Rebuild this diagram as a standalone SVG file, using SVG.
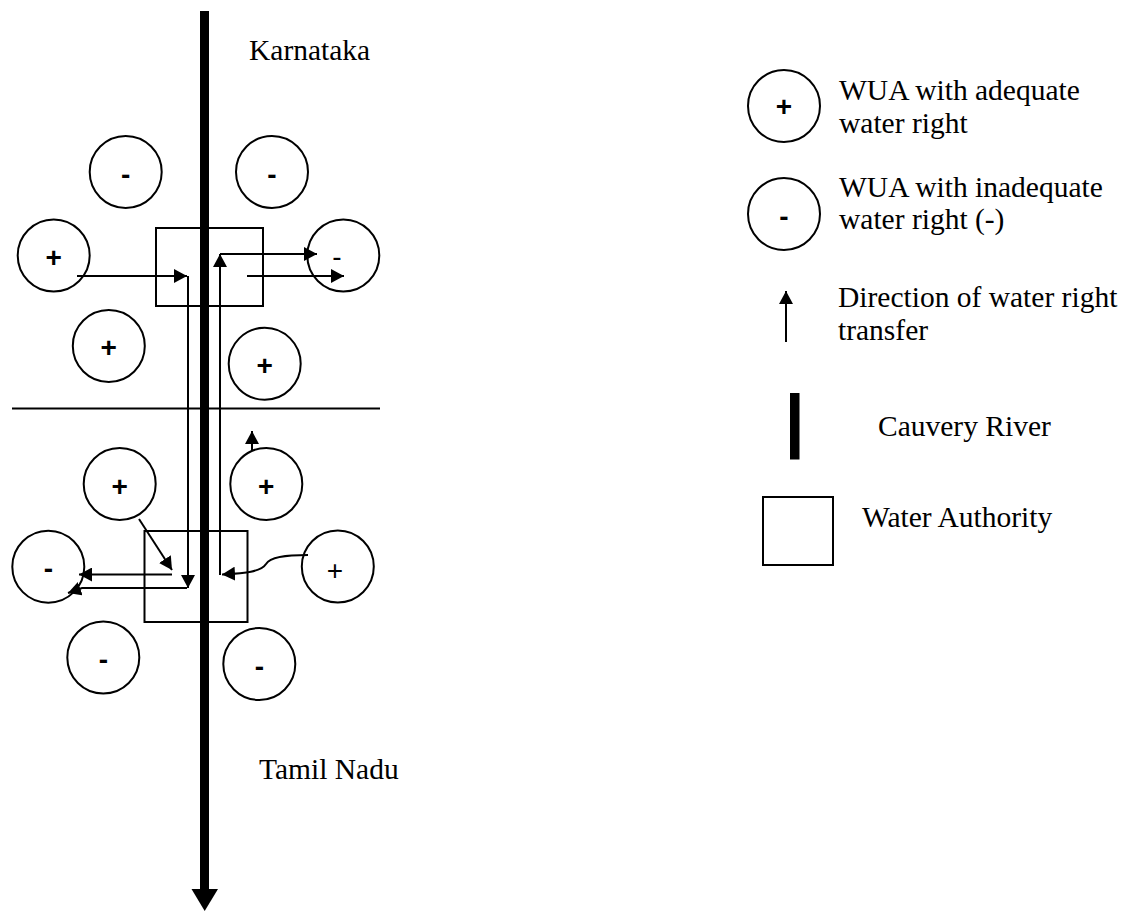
<svg xmlns="http://www.w3.org/2000/svg" width="1136" height="911" viewBox="0 0 1136 911">
<style>
.c{fill:#fff;stroke:#000;stroke-width:2}
.s{font-family:"Liberation Sans",Arial,sans-serif;font-size:28px;font-weight:bold;text-anchor:middle}
.sr{font-family:"Liberation Sans",Arial,sans-serif;font-size:28px;text-anchor:middle}
.t{font-family:"Liberation Serif","Times New Roman",serif;font-size:29.5px;fill:#000}
.ln{fill:none;stroke:#000;stroke-width:2}
.b{fill:none;stroke:#000;stroke-width:2}
</style>
<defs>
<marker id="ah" markerWidth="14" markerHeight="14" refX="13" refY="7" orient="auto" markerUnits="userSpaceOnUse">
<path d="M0,0 L13,7 L0,14 Z" fill="#000"/>
</marker>
</defs>
<rect width="1136" height="911" fill="#fff"/>

<g id="river">
<rect x="200" y="11" width="9" height="879" fill="#000"/>
<path d="M191.5,889 L218,889 L204.7,911 Z" fill="#000"/>
</g>
<g id="divider">
<line x1="12" y1="408.5" x2="380" y2="408.5" stroke="#000" stroke-width="2"/>
</g>
<g id="authority-top"><rect class="b" x="156" y="228" width="107" height="78"/></g>
<g id="authority-bottom"><rect class="b" x="144.5" y="531" width="103" height="91"/></g>

<g id="wua1"><circle class="c" cx="125.7" cy="172" r="36"/><text class="s" x="125.7" y="184">-</text></g>
<g id="wua2"><circle class="c" cx="272" cy="172" r="36"/><text class="s" x="272" y="184">-</text></g>
<g id="wua3"><circle class="c" cx="53.7" cy="255.5" r="36"/><text class="s" x="53.7" y="267">+</text></g>
<g id="wua4"><circle class="c" cx="343.3" cy="255.5" r="36"/><text class="sr" x="337" y="266">-</text></g>
<g id="wua5"><circle class="c" cx="108.8" cy="346" r="36"/><text class="s" x="108.8" y="357">+</text></g>
<g id="wua6"><circle class="c" cx="264.7" cy="363.8" r="36"/><text class="s" x="264.7" y="375">+</text></g>
<g id="wua7"><circle class="c" cx="119.7" cy="484" r="36"/><text class="s" x="119.7" y="496">+</text></g>
<g id="wua8"><circle class="c" cx="266.3" cy="484" r="36"/><text class="s" x="266.3" y="496">+</text></g>
<g id="wua9"><circle class="c" cx="48.3" cy="566.7" r="36"/><text class="s" x="48.3" y="578">-</text></g>
<g id="wua10"><circle class="c" cx="337.8" cy="566.5" r="36"/><text class="sr" x="335" y="580">+</text></g>
<g id="wua11"><circle class="c" cx="103.3" cy="657.5" r="36"/><text class="s" x="103.3" y="669">-</text></g>
<g id="wua12"><circle class="c" cx="259.3" cy="664" r="36"/><text class="s" x="259.3" y="676">-</text></g>

<g id="connectors">
<line class="ln" x1="77" y1="276" x2="187" y2="276" marker-end="url(#ah)"/>
<line class="ln" x1="188" y1="276" x2="188" y2="588" marker-end="url(#ah)"/>
<path class="ln" d="M187,588 L82,588 L68,593" marker-end="url(#ah)"/>
<polyline class="ln" points="220,575 220,254"/>
<line class="ln" x1="220" y1="275" x2="220" y2="254" marker-end="url(#ah)"/>
<line class="ln" x1="220" y1="254" x2="317" y2="254" marker-end="url(#ah)"/>
<line class="ln" x1="247" y1="276" x2="344" y2="276" marker-end="url(#ah)"/>
<line class="ln" x1="252" y1="450" x2="252" y2="431" marker-end="url(#ah)"/>
<line class="ln" x1="139" y1="519" x2="172" y2="570" marker-end="url(#ah)"/>
<line class="ln" x1="172" y1="574.5" x2="79" y2="574.5" marker-end="url(#ah)"/>
<path class="ln" d="M308,555 C285,555 270,557 266,564 C261,572 245,573 222,574.5" marker-end="url(#ah)"/>
</g>

<g id="labels">
<text class="t" x="249" y="60">Karnataka</text>
<text class="t" x="259" y="779">Tamil Nadu</text>
</g>

<g id="legend">
<g id="leg-plus"><circle class="c" cx="784" cy="106" r="36"/><text class="s" x="784" y="116">+</text>
<text class="t" x="839" y="100">WUA with adequate</text><text class="t" x="839" y="133">water right</text></g>
<g id="leg-minus"><circle class="c" cx="784" cy="214" r="36"/><text class="s" x="784" y="226">-</text>
<text class="t" x="839" y="197">WUA with inadequate</text><text class="t" x="839" y="229">water right (-)</text></g>
<g id="leg-arrow"><line class="ln" x1="786" y1="342" x2="786" y2="291" marker-end="url(#ah)"/>
<text class="t" x="838" y="307">Direction of water right</text><text class="t" x="838" y="340">transfer</text></g>
<g id="leg-river"><rect x="790" y="393" width="9.5" height="66.5" fill="#000"/>
<text class="t" x="878" y="436">Cauvery River</text></g>
<g id="leg-authority"><rect class="b" x="763" y="497" width="70" height="68"/>
<text class="t" x="862" y="527">Water Authority</text></g>
</g>
</svg>
